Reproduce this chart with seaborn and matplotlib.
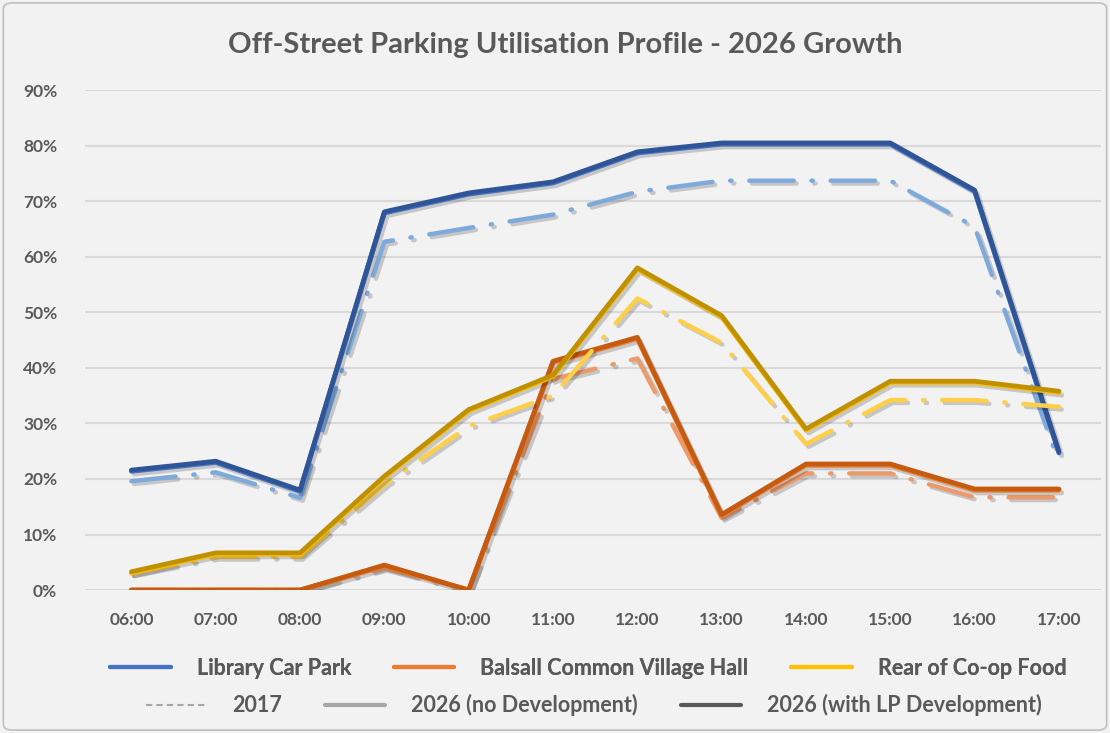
import seaborn as sns
import pandas as pd
import matplotlib.pyplot as plt
import matplotlib.ticker as mtick
import matplotlib.patheffects as pe
from matplotlib.lines import Line2D
from matplotlib.patches import FancyBboxPatch

hours = ["06:00", "07:00", "08:00", "09:00", "10:00", "11:00",
         "12:00", "13:00", "14:00", "15:00", "16:00", "17:00"]

# Library Car Park
library_2017 = [19.6, 21.2, 16.6, 62.7, 65.2, 67.6, 71.7, 73.7, 73.7, 73.7, 65.4, 23.0]
library_nodev = [21.4, 23.0, 17.8, 67.9, 71.3, 73.3, 78.7, 80.3, 80.3, 80.3, 71.8, 24.7]
library_lp = [21.6, 23.2, 18.0, 68.1, 71.5, 73.5, 78.9, 80.5, 80.5, 80.5, 72.0, 24.9]

# Balsall Common Village Hall
balsall_2017 = [0.0, 0.0, 0.0, 4.0, 0.0, 38.0, 41.7, 13.0, 21.0, 21.0, 16.7, 16.7]
balsall_nodev = [0.0, 0.0, 0.0, 4.3, 0.0, 41.0, 45.3, 13.4, 22.5, 22.5, 18.0, 18.0]
balsall_lp = [0.0, 0.0, 0.0, 4.5, 0.0, 41.2, 45.5, 13.6, 22.7, 22.7, 18.2, 18.2]

# Rear of Co-op Food
coop_2017 = [3.0, 6.0, 6.0, 19.0, 29.5, 35.0, 52.5, 44.5, 26.3, 34.2, 34.2, 33.0]
coop_nodev = [3.1, 6.5, 6.5, 20.3, 32.3, 38.5, 57.8, 49.2, 28.8, 37.4, 37.4, 35.6]
coop_lp = [3.3, 6.7, 6.7, 20.5, 32.5, 38.7, 58.0, 49.4, 29.0, 37.6, 37.6, 35.8]

sites = ["Library Car Park", "Balsall Common Village Hall", "Rear of Co-op Food"]
series = {
    "Library Car Park": (library_2017, library_nodev, library_lp),
    "Balsall Common Village Hall": (balsall_2017, balsall_nodev, balsall_lp),
    "Rear of Co-op Food": (coop_2017, coop_nodev, coop_lp),
}
# light / medium / dark shade per site
colors = {
    "Library Car Park": ("#7EAADB", "#4472C4", "#2F5597"),
    "Balsall Common Village Hall": ("#EB9A6C", "#ED7D31", "#C55A11"),
    "Rear of Co-op Food": ("#FFCF48", "#FFC000", "#BF9000"),
}

bg = "#F2F2F2"
txt = "#595959"

sns.set_theme(style="whitegrid")
plt.rcParams["font.family"] = ["Lato", "DejaVu Sans"]

fig = plt.figure(figsize=(11.1, 7.33), dpi=100, facecolor=bg)
ax = fig.add_axes([0.0766, 0.195, 0.9154, 0.682])
ax.set_facecolor(bg)

shadow = [pe.SimpleLineShadow(offset=(2, -2), alpha=0.18, shadow_color="black"), pe.Normal()]

for site in sites:
    v17, vnd, vlp = series[site]
    c17, cnd, clp = colors[site]
    sns.lineplot(x=hours, y=[v / 100 for v in v17], ax=ax, color=c17, linewidth=3.2, sort=False)
    line = ax.lines[-1]
    line.set_dashes((10, 4, 0.3, 4))
    line.set_dash_capstyle("round")
    line.set_path_effects(shadow)
    sns.lineplot(x=hours, y=[v / 100 for v in vnd], ax=ax, color=cnd, linewidth=3.6, sort=False)
    ax.lines[-1].set_path_effects(shadow)
    sns.lineplot(x=hours, y=[v / 100 for v in vlp], ax=ax, color=clp, linewidth=3.4, sort=False)
    ax.lines[-1].set_solid_capstyle("round")

ax.set_xlim(-0.55, 11.5)
ax.set_ylim(0, 0.9)
ax.set_yticks([i / 10 for i in range(10)])
ax.yaxis.set_major_formatter(mtick.FuncFormatter(lambda v, pos: f"{v * 100:.0f}%"))
ax.grid(axis="y", color="#D9D9D9", linewidth=1.5)
ax.grid(axis="x", visible=False)
for s in ax.spines.values():
    s.set_visible(False)
ax.tick_params(axis="both", length=0, labelsize=12.5, labelcolor=txt)
ax.tick_params(axis="x", pad=16)
ax.tick_params(axis="y", pad=20)
for lab in ax.get_xticklabels() + ax.get_yticklabels():
    lab.set_fontweight("bold")
ax.set_xlabel("")
ax.set_ylabel("")

fig.text(0.509, 0.938, "Off-Street Parking Utilisation Profile - 2026 Growth",
         ha="center", va="center", fontsize=21, fontweight="bold", color=txt)

# legend row 1: sites
h1 = [Line2D([0], [0], color=colors[s][1], linewidth=3) for s in sites]
leg1 = fig.legend(h1, sites, loc="center", bbox_to_anchor=(0.53, 0.088), ncol=3,
                  frameon=False, handlelength=2.8, handletextpad=1.2, columnspacing=2.0,
                  prop={"weight": "bold", "size": 15.5})
for t in leg1.get_texts():
    t.set_color(txt)

# legend row 2: scenarios
h2 = [Line2D([0], [0], color="#A6A6A6", linewidth=1.5, linestyle=(0, (3, 2))),
      Line2D([0], [0], color="#A6A6A6", linewidth=3),
      Line2D([0], [0], color="#595959", linewidth=3)]
leg2 = fig.legend(h2, ["2017", "2026 (no Development)", "2026 (with LP Development)"],
                  loc="center", bbox_to_anchor=(0.535, 0.038), ncol=3, frameon=False,
                  handlelength=2.8, handletextpad=1.2, columnspacing=2.0,
                  prop={"weight": "bold", "size": 15.5})
for t in leg2.get_texts():
    t.set_color(txt)
fig.add_artist(leg1)

fig.patches.append(FancyBboxPatch((0.003, 0.004), 0.994, 0.992, boxstyle="round,pad=0,rounding_size=0.008",
                                  transform=fig.transFigure, facecolor="none",
                                  edgecolor="#BFBFBF", linewidth=1.2))

fig.savefig("out.png", dpi=100, facecolor=bg)
